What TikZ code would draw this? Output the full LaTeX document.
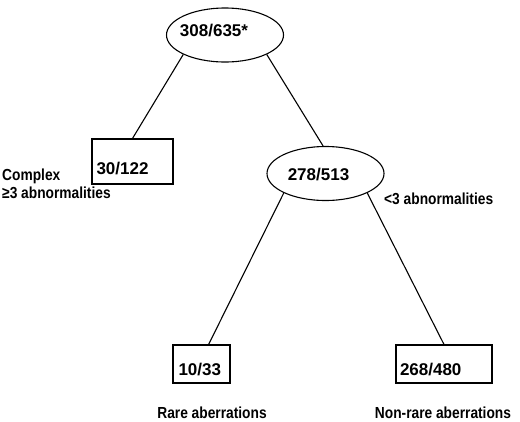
\documentclass[tikz,border=0pt]{standalone}
\usepackage{fontspec}
\setmainfont{Liberation Sans}
\newfontfamily\condfont[FakeStretch=0.86]{Liberation Sans}
\usetikzlibrary{shapes.geometric}
\begin{document}
\begin{tikzpicture}[x=1pt,y=-1pt,
  every node/.style={font=\bfseries},
  num/.style={font=\fontsize{17}{20}\selectfont\bfseries},
  oval/.style={draw,ellipse,line width=1.1pt,inner sep=0pt,minimum width=117pt,minimum height=54pt},
  leaf/.style={draw,rectangle,line width=1.1pt,inner sep=0pt,text height=22pt,text depth=0pt,font=\fontsize{17}{20}\selectfont\bfseries},
  lab/.style={font=\fontsize{16}{18}\condfont\bfseries,inner sep=0pt},
  edge/.style={line width=1.1pt}]
\useasboundingbox (0,0) rectangle (520,421);
\node[oval,label={[num,xshift=-11pt,yshift=4pt]center:308/635*}] (top) at (225,35) {};
\node[leaf,minimum width=81pt,minimum height=45pt,text width=72pt,align=left,text height=26pt] (b1) at (132.5,161.5) {30/122};
\node[oval,label={[num,xshift=-7pt,yshift=-1pt]center:278/513}] (mid) at (325.5,173.5) {};
\node[leaf,minimum width=57pt,minimum height=38pt,text width=46pt,align=left] (b2) at (201.5,364) {10/33};
\node[leaf,minimum width=96pt,minimum height=38pt,text width=88pt,align=left] (b3) at (444,364) {268/480};
\draw[edge] (top.south west) -- (b1.north);
\draw[edge] (top.south east) -- (mid.95);
\draw[edge] (mid.south west) -- (b2.70);
\draw[edge] (mid.south east) -- (b3.north);
\node[lab,anchor=base west,align=left] (c1) at (2,198) {Complex\\≥3 abnormalities};
\node[lab,anchor=base west] (c2) at (384,204) {<3 abnormalities};
\node[lab,anchor=base] (c3) at (212,418) {Rare aberrations};
\node[lab,anchor=base] (c4) at (443,418) {Non-rare aberrations};
\end{tikzpicture}
\end{document}
